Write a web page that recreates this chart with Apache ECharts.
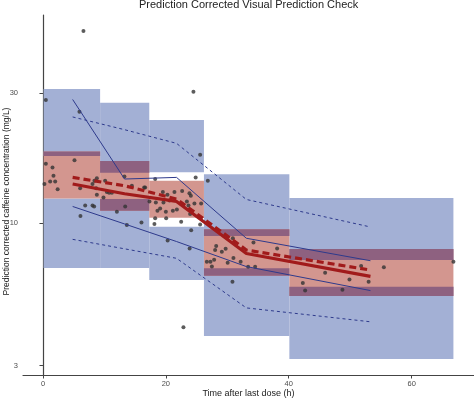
<!DOCTYPE html>
<html>
<head>
<meta charset="utf-8">
<script src="https://cdn.jsdelivr.net/npm/echarts@6/dist/echarts.min.js"></script>
<style>
  html, body { margin: 0; padding: 0; background: #fff; }
  #box { width: 474px; height: 399px; }
</style>
</head>
<body>
<div id="box"></div>
<script>
// bins (time after last dose, h)
var binStart = [0.1, 9.3, 17.3, 26.2, 40.1];
var binEnd   = [9.3, 17.3, 26.2, 40.1, 66.8];
// prediction intervals (mg/L)
var hiPiLo  = [17.6, 15.3, 15.35, 8.96, 7.31];
var hiPiHi  = [31.0, 27.6, 23.9, 15.1, 12.35];
var medPiLo = [12.3, 11.1, 10.45, 6.41, 5.40];
var medPiHi = [18.3, 16.9, 14.3, 9.48, 8.03];
var loPiLo  = [6.84, 6.84, 6.18, 3.85, 3.17];
var loPiHi  = [12.3, 12.25, 9.69, 6.82, 5.84];

// percentile lines
var binTime   = [4.83, 13.28, 21.74, 33.1, 53.3];
var obsMedian = [13.9, 12.8, 12.0, 7.73, 6.37];
var simMedian = [14.7, 13.7, 12.25, 7.96, 6.72];
var obsP95    = [28.4, 14.5, 14.7, 8.79, 7.27];
var obsP05    = [11.5, 9.92, 8.55, 6.92, 5.65];
var simP95    = [24.5, 22.0, 19.6, 12.2, 9.67];
var simP05    = [8.71, 8.04, 7.42, 4.88, 4.34];

// observations
var obsTime = [0.47, 0.47, 1.55, 1.71, 1.17, 1.99, 0.24, 2.39, 5.13, 5.94, 6.59, 6.05, 6.87, 6.10, 8.06, 8.33, 8.77, 8.38, 8.06, 8.66, 8.77,
  10.12, 10.4, 10.77, 11.21, 9.85, 13.26, 14.47, 16.63, 13.38, 12.03, 13.65, 16.03,
  16.47, 18.26, 19.51, 20.26, 21.4, 22.65, 23.84, 24.07, 17.33, 18.37, 19.61, 20.59, 23.42, 24.65, 25.74, 23.68, 19.07, 18.63, 20.0, 21.14, 21.79, 23.95,
  18.26, 20.05, 22.49, 18.14, 25.58, 24.12, 20.29, 23.87, 22.86, 24.49, 25.58, 24.85, 26.83,
  30.9, 28.19, 28.02, 29.11, 29.73, 34.26, 38.11, 26.67, 27.26, 27.86, 27.49, 30.06, 31.0, 32.17, 33.39, 34.53, 30.84,
  42.29, 42.67, 45.92, 48.74, 49.88, 51.78, 53.0, 55.48, 66.8];
var obsConc = [28.3, 16.5, 16.0, 14.9, 14.2, 14.2, 13.9, 13.3, 17.0, 25.6, 50.7, 13.4, 11.6, 10.6, 11.6, 11.5, 14.6, 14.3, 13.9, 13.4, 12.7,
  14.3, 13.0, 12.9, 12.9, 12.4, 14.8, 13.7, 13.5, 11.5, 11.0, 9.83, 10.04,
  13.5, 14.5, 13.0, 12.7, 13.0, 13.1, 12.85, 12.6, 12.0, 11.9, 11.9, 12.1, 12.0, 11.8, 11.8, 11.6, 11.3, 11.1, 11.0, 11.1, 11.2, 10.8,
  10.4, 10.4, 10.1, 9.92, 9.87, 9.40, 8.62, 8.06, 4.14, 30.3, 17.8, 14.7, 14.3,
  8.79, 8.23, 7.96, 7.85, 8.05, 8.48, 8.07, 7.21, 7.21, 7.33, 6.92, 7.15, 7.44, 7.21, 6.91, 6.91, 6.09,
  6.02, 5.65, 6.57, 5.69, 6.21, 6.95, 6.09, 6.88, 7.21];

var xTicks = [0, 20, 40, 60];
var yTicks = [3, 10, 30];

var lg = function (v) { return Math.log10(v); };

function rects(lo, hi) {
  return binStart.map(function (s, i) { return [s, binEnd[i], lg(lo[i]), lg(hi[i])]; });
}
function overlap(lo, hi) {
  var out = [];
  binStart.forEach(function (s, i) {
    var a = Math.max(medPiLo[i], lo[i]), b = Math.min(medPiHi[i], hi[i]);
    if (b > a) out.push([s, binEnd[i], lg(a), lg(b)]);
  });
  return out;
}
function line(vals) {
  return binTime.map(function (t, i) { return [t, lg(vals[i])]; });
}
function rectSeries(data, color, z) {
  return {
    type: 'custom', z: z, silent: true,
    encode: { x: [0, 1], y: [2, 3] },
    data: data,
    renderItem: function (params, api) {
      var p0 = api.coord([api.value(0), api.value(3)]);
      var p1 = api.coord([api.value(1), api.value(2)]);
      return { type: 'rect', shape: { x: p0[0], y: p0[1], width: p1[0] - p0[0], height: p1[1] - p0[1] }, style: { fill: color } };
    }
  };
}
function lineSeries(vals, color, width, dash, z) {
  return {
    type: 'line', z: z, silent: true, symbol: 'none',
    data: line(vals),
    lineStyle: { color: color, width: width, type: dash }
  };
}

var blue = '#a3b0d5', pink = '#d3968f', dark = '#8e6180';
var redLine = '#a11b1b', navy = '#2e3a8c';

var chart = echarts.init(document.getElementById('box'));
var option = {
  animation: false,
  title: {
    text: 'Prediction Corrected Visual Prediction Check',
    left: 139, top: -1, padding: 0,
    textStyle: { fontSize: 11, fontWeight: 'normal', color: '#222', fontFamily: 'Liberation Sans' }
  },
  grid: { left: 23, right: 0, top: 15, bottom: 24, outerBoundsMode: 'none' },
  xAxis: {
    type: 'value', min: -3.25, max: 70.15,
    name: 'Time after last dose (h)', nameLocation: 'middle', nameGap: 14, nameMoveOverlap: false,
    nameTextStyle: { fontSize: 9, color: '#222', fontFamily: 'Liberation Sans' },
    splitLine: { show: false },
    axisLine: { lineStyle: { color: '#444', width: 1.2 } },
    axisTick: { length: 3.5, lineStyle: { color: '#444' }, customValues: xTicks },
    axisLabel: { customValues: xTicks, fontSize: 7.5, color: '#4d4d4d', margin: 5, fontFamily: 'Liberation Sans' }
  },
  yAxis: {
    type: 'value', min: 0.4422, max: 1.7633,
    name: 'Prediction corrected caffeine concentration (mg/L)', nameLocation: 'middle', nameGap: 12, nameRotate: 90, nameMoveOverlap: false,
    nameTextStyle: { fontSize: 8.5, color: '#222', fontFamily: 'Liberation Sans', padding: [0, 13, 0, 0] },
    splitLine: { show: false },
    axisLine: { show: true, lineStyle: { color: '#444', width: 1.2 } },
    axisTick: { show: true, length: 3.5, lineStyle: { color: '#444' }, customValues: yTicks.map(lg) },
    axisLabel: {
      customValues: yTicks.map(lg), fontSize: 7.5, color: '#4d4d4d', margin: 5, fontFamily: 'Liberation Sans',
      formatter: function (v) { return String(Math.round(Math.pow(10, v))); }
    }
  },
  series: [
    rectSeries(rects(hiPiLo, hiPiHi), blue, 1),
    rectSeries(rects(loPiLo, loPiHi), blue, 1),
    rectSeries(rects(medPiLo, medPiHi), pink, 2),
    rectSeries(overlap(hiPiLo, hiPiHi), dark, 3),
    rectSeries(overlap(loPiLo, loPiHi), dark, 3),
    {
      type: 'scatter', z: 4, silent: true, symbolSize: 4,
      itemStyle: { color: '#333' },
      data: obsTime.map(function (t, i) { return [t, lg(obsConc[i])]; })
    },
    lineSeries(simP95, navy, 1, [3, 3], 5),
    lineSeries(simP05, navy, 1, [3, 3], 5),
    lineSeries(obsP95, navy, 1, 'solid', 5),
    lineSeries(obsP05, navy, 1, 'solid', 5),
    lineSeries(simMedian, redLine, 3.2, [7, 4], 6),
    lineSeries(obsMedian, redLine, 3.2, 'solid', 6)
  ]
};
chart.setOption(option);
</script>
</body>
</html>
